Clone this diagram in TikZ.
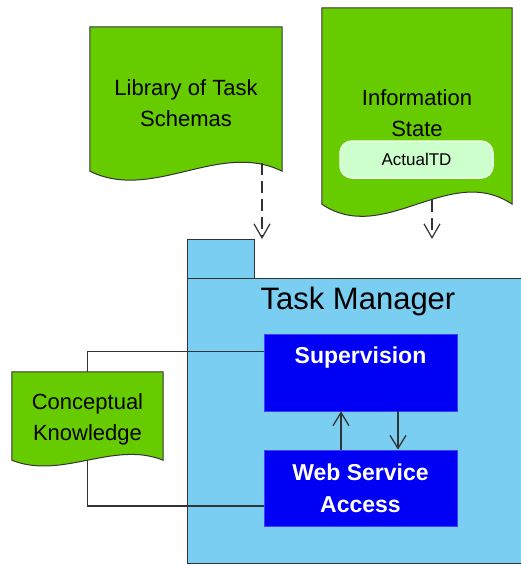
\documentclass[tikz,border=0pt]{standalone}
\usepackage{fontspec}
\setmainfont{Liberation Sans}
\usetikzlibrary{arrows.meta,calc,backgrounds}

\definecolor{docgreen}{HTML}{66CC00}
\definecolor{pkgblue}{HTML}{7ACEF2}
\definecolor{partblue}{HTML}{0000F5}
\definecolor{statefill}{HTML}{CCFFCC}
\definecolor{linegray}{HTML}{333333}

% document shape with wavy bottom: node, lift of corners, wave size
\newcommand{\docwave}[3]{%
  \filldraw[docshape] (#1.north west) -- (#1.north east)
    -- ([yshift=#2]#1.south east)
    .. controls ([yshift=#2+#3]$(#1.south east)!0.33!(#1.south west)$)
       and ([yshift=#2-#3]$(#1.south east)!0.67!(#1.south west)$)
    .. ([yshift=#2]#1.south west) -- cycle;}

\begin{document}
\begin{tikzpicture}[x=1pt,y=-1pt]
        \tikzset{doc/.style 2 args = {minimum width=#1,minimum height=#2,inner sep=0pt,align=center,font=\fontsize{22}{31}\selectfont}}
        \tikzset{docshape/.style = {draw=linegray,fill=docgreen,line width=1pt}}
        \tikzset{state/.style = {rounded corners=12pt,fill=statefill,draw=statefill!40!white,line width=1.5pt,minimum width=153pt,minimum height=37pt,font=\fontsize{17}{20}\selectfont}}
        \tikzset{pkg/.style = {draw=linegray,fill=pkgblue,line width=1.3pt,anchor=north west,inner sep=0pt}}
        \tikzset{part/.style = {fill=partblue,draw=partblue!75!white,line width=0.8pt,text=white,minimum width=193pt,inner sep=0pt,align=center,font=\bfseries\fontsize{23}{32}\selectfont}}
        \tikzset{dep/.style = {-{Straight Barb[length=14pt,width=16pt]},dash pattern=on 12pt off 6pt,line width=1.2pt,draw=linegray}}
        \tikzset{flow/.style = {-{Straight Barb[length=13pt,width=16pt]},line width=1.3pt,draw=linegray}}
        \tikzset{link/.style = {line width=1.3pt,draw=linegray}}

        \useasboundingbox (0,0) rectangle (521,566);
        \clip (0,0) rectangle (521,566);

        % package
        \node[pkg,minimum width=67pt,minimum height=39pt] (tab) at (187,239) {};
        \node[pkg,minimum width=350pt,minimum height=285pt] (tm) at (187,278) {};
        \node[font=\fontsize{31}{36}\selectfont,anchor=base] (tmtitle) at (358,309) {Task Manager};

        % parts
        \node[part,minimum height=77pt,text height=29pt,text depth=48pt] (sup) at (360.5,372.5) {Supervision};
        \node[part,minimum height=76pt] (wsa) at (360.5,488) {Web Service\\Access};

        % documents
        \node[doc={192pt}{153pt}] (lib) at (186,103.5) {Library of Task\\Schemas};
        \node[doc={190pt}{210pt}] (info) at (417,113) {Information\\State};
        \node[doc={151pt}{94pt}] (ck) at (87.5,419) {Conceptual\\Knowledge};
        \node[state] (actual) at (416.5,159.5) {ActualTD};

        \begin{pgfonlayer}{background}
          \docwave{lib}{9pt}{31pt}
          \docwave{info}{14pt}{42pt}
          \docwave{ck}{6pt}{20pt}
        \end{pgfonlayer}

        % dependencies
        \coordinate (libout) at (262,163);
        \coordinate (infoout) at (432,200);
        \draw[dep] (libout) -- (libout |- tab.north);
        \draw[dep] (infoout) -- (infoout |- tab.north);

        % connectors
        \draw[flow] ([xshift=-19.5pt]wsa.north) -- ([xshift=-19.5pt]sup.south);
        \draw[flow] ([xshift=37.5pt]sup.south) -- ([xshift=37.5pt]wsa.north);
        \draw[link] ([yshift=-18pt]sup.north west) -| (ck.north);
        \draw[link] ([yshift=6pt]ck.south) |- ([yshift=-18pt]wsa.west);
\end{tikzpicture}
\end{document}
